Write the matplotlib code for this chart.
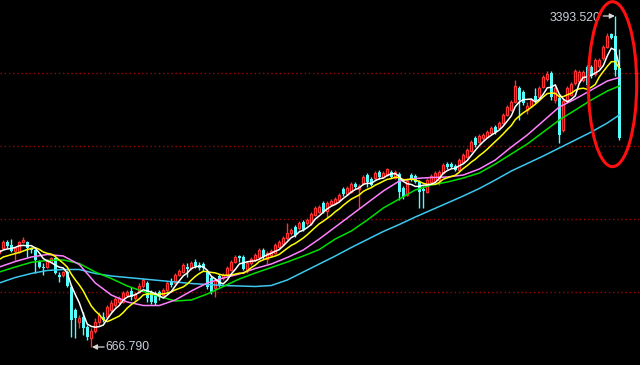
import numpy as np
import pandas as pd
import matplotlib
matplotlib.use("Agg")
import matplotlib.pyplot as plt
from matplotlib.patches import Ellipse

# ---------------- data ----------------
# bar index; -1 is the partly hidden first bar at the left edge
idx = np.arange(-1, 155)

opens = [1441,
    1482, 1532, 1507, 1458, 1450, 1532, 1532, 1482, 1466, 1367,
    1326, 1326, 1367, 1400, 1260, 1260, 1285, 1161, 972, 873,
    914, 832, 741, 799, 873, 914, 914, 972, 1013, 1038,
    1038, 1095, 1128, 1071, 1120, 1169, 1194, 1120, 1112, 1120,
    1095, 1136, 1202, 1194, 1260, 1285, 1326, 1318, 1367, 1342,
    1351, 1285, 1235, 1153, 1252, 1235, 1260, 1301, 1367, 1417,
    1408, 1301, 1359, 1384, 1408, 1466, 1392, 1425, 1441, 1491,
    1515, 1565, 1606, 1655, 1647, 1697, 1688, 1688, 1754, 1779,
    1853, 1787, 1845, 1853, 1878, 1968, 1927, 1944, 2010, 1968,
    2018, 2084, 2051, 2059, 2108, 2067, 2084, 2108, 2059, 2092,
    1977, 1919, 2084, 2075, 2026, 1968, 1944, 2026, 2034, 2043,
    2100, 2174, 2174, 2158, 2125, 2191, 2232, 2282, 2389, 2356,
    2389, 2397, 2430, 2479, 2471, 2512, 2578, 2619, 2685, 2800,
    2768, 2619, 2652, 2735, 2726, 2809, 2875, 2924, 2702, 2718,
    2455, 2702, 2743, 2842, 2858, 2866, 2974, 2974, 2916, 2982,
    3048, 3138, 3245, 3229, 2965]

highs = [1474,
    1548, 1548, 1557, 1491, 1540, 1573, 1540, 1491, 1474, 1384,
    1359, 1392, 1408, 1408, 1285, 1293, 1301, 1178, 988, 930,
    955, 848, 823, 906, 955, 955, 1013, 1054, 1079, 1087,
    1128, 1136, 1161, 1120, 1194, 1235, 1211, 1136, 1128, 1136,
    1153, 1211, 1235, 1277, 1309, 1359, 1359, 1375, 1392, 1367,
    1367, 1301, 1252, 1235, 1268, 1277, 1334, 1384, 1425, 1425,
    1425, 1375, 1408, 1441, 1482, 1482, 1458, 1474, 1524, 1548,
    1581, 1688, 1647, 1672, 1705, 1713, 1730, 1779, 1828, 1837,
    1870, 1870, 1886, 1903, 1935, 1985, 1993, 2026, 2026, 2010,
    2084, 2100, 2067, 2117, 2125, 2117, 2141, 2125, 2125, 2108,
    1993, 2059, 2100, 2092, 2043, 1993, 2059, 2092, 2117, 2125,
    2183, 2191, 2191, 2174, 2224, 2265, 2306, 2372, 2405, 2422,
    2430, 2455, 2487, 2496, 2529, 2595, 2660, 2702, 2866, 2817,
    2784, 2685, 2718, 2800, 2817, 2908, 2941, 2941, 2817, 2743,
    2710, 2817, 2850, 2957, 2949, 2949, 2990, 2990, 3048, 3048,
    3155, 3254, 3254, 3393.52, 3122]

lows = [1425,
    1474, 1482, 1450, 1384, 1441, 1524, 1408, 1441, 1277, 1318,
    1260, 1318, 1359, 1268, 1202, 1244, 1161, 749, 741, 823,
    766, 724, 666.79, 782, 848, 873, 906, 955, 996, 1021,
    1029, 1079, 1054, 1054, 1112, 1153, 1038, 1021, 1013, 1054,
    1079, 1120, 1161, 1186, 1252, 1277, 1244, 1301, 1318, 1301,
    1293, 1145, 1104, 1079, 1161, 1219, 1252, 1293, 1359, 1367,
    1301, 1277, 1342, 1375, 1400, 1392, 1351, 1408, 1433, 1482,
    1507, 1548, 1590, 1573, 1631, 1623, 1672, 1672, 1746, 1771,
    1771, 1738, 1828, 1845, 1870, 1911, 1919, 1935, 1968, 1812,
    2001, 1985, 1993, 2043, 2051, 2059, 2075, 2059, 2051, 1878,
    1886, 1911, 2034, 2018, 1812, 1812, 1935, 2018, 2026, 2001,
    2092, 2133, 2141, 2117, 2117, 2183, 2224, 2273, 2314, 2347,
    2372, 2389, 2422, 2422, 2463, 2504, 2570, 2611, 2677, 2537,
    2660, 2587, 2644, 2677, 2718, 2800, 2858, 2702, 2677, 2347,
    2438, 2693, 2735, 2825, 2842, 2850, 2809, 2883, 2899, 2965,
    3031, 3130, 3204, 2899, 2372]

closes = [1466,
    1532, 1499, 1458, 1482, 1532, 1548, 1482, 1466, 1384, 1326,
    1318, 1384, 1400, 1277, 1244, 1285, 1169, 889, 906, 906,
    823, 749, 799, 873, 930, 889, 996, 1029, 1062, 1071,
    1112, 1120, 1079, 1104, 1169, 1219, 1071, 1038, 1029, 1079,
    1136, 1194, 1178, 1260, 1293, 1342, 1309, 1359, 1334, 1318,
    1318, 1161, 1120, 1219, 1178, 1260, 1318, 1367, 1408, 1400,
    1309, 1359, 1392, 1425, 1466, 1408, 1441, 1458, 1507, 1532,
    1565, 1606, 1631, 1590, 1688, 1631, 1713, 1762, 1812, 1820,
    1779, 1853, 1870, 1886, 1919, 1927, 1977, 2010, 1985, 1993,
    2067, 2026, 2001, 2100, 2067, 2100, 2133, 2067, 2108, 1944,
    1902, 2034, 2043, 2026, 1944, 1952, 2043, 2075, 2100, 2108,
    2166, 2150, 2150, 2125, 2207, 2249, 2290, 2356, 2331, 2405,
    2413, 2438, 2471, 2438, 2512, 2578, 2644, 2685, 2817, 2702,
    2677, 2652, 2702, 2702, 2800, 2891, 2916, 2726, 2800, 2413,
    2693, 2800, 2833, 2941, 2932, 2932, 2825, 2899, 3031, 3031,
    3138, 3229, 3212, 2949, 2389]

# leading values of the short averages where the window runs off the picture
ma5_head = [1449.5, 1465.9, 1474.2, 1478.3]
ma10_head = [1387.7, 1408.3, 1418.2, 1428.9, 1437.1, 1445.3, 1457.7, 1470.0, 1478.3]

# longer averages, read at sample bars
ma_k = [-1, 3, 7, 11, 15, 19, 23, 27, 31, 35, 39, 43, 47, 51, 55, 59, 63, 67, 71,
        75, 79, 83, 87, 91, 95, 99, 103, 107, 111, 115, 119, 123, 127, 131, 135,
        139, 143, 147, 151, 154]
ma20 = [1325.9, 1371.2, 1408.3, 1428.9, 1416.5, 1346.5, 1194.1, 1095.2, 1037.5,
        1008.7, 1008.7, 1054.0, 1128.2, 1194.1, 1235.3, 1268.2, 1313.5, 1350.6,
        1404.2, 1465.9, 1556.6, 1655.3, 1754.2, 1853.1, 1951.9, 2034.3, 2055.0,
        2063.1, 2067.3, 2083.7, 2133.2, 2207.3, 2314.4, 2413.3, 2528.6, 2644.0,
        2709.8, 2784.0, 2858.1, 2887.0]
ma30 = [1284.7, 1325.9, 1364.6, 1379.5, 1383.6, 1354.7, 1284.7, 1231.1, 1169.4,
        1124.1, 1082.9, 1045.8, 1054.0, 1103.5, 1165.2, 1227.0, 1276.5, 1321.8,
        1367.1, 1416.5, 1470.0, 1556.6, 1622.5, 1713.0, 1811.9, 1886.0, 1960.2,
        2001.4, 2026.1, 2059.0, 2100.2, 2174.4, 2256.8, 2339.2, 2438.0, 2536.8,
        2619.2, 2701.6, 2775.7, 2816.9]
ma60 = [1194.1, 1239.4, 1272.4, 1297.1, 1305.3, 1305.3, 1272.4, 1251.8, 1239.4,
        1227.0, 1214.7, 1202.3, 1189.9, 1181.7, 1173.5, 1169.4, 1165.2, 1173.5,
        1218.8, 1284.7, 1350.6, 1416.5, 1486.5, 1552.5, 1618.4, 1676.0, 1737.7,
        1795.4, 1853.1, 1911.0, 1972.5, 2042.6, 2116.7, 2178.5, 2240.3, 2306.2,
        2372.1, 2438.0, 2512.1, 2578.0]

grid_levels = [2924.0, 2322.7, 1721.2, 1119.9]

# ---------------- figure ----------------
fig = plt.figure(figsize=(6.4, 3.65), dpi=100, facecolor="black")
ax = fig.add_axes([0, 0, 1, 1])
ax.set_facecolor("black")
ax.set_xlim(-0.825, 159.175)
ax.set_ylim(518.5, 3525.4)
ax.axis("off")

RED = "#ff3232"
CYAN = "#54fcfc"

o = np.array(opens, float)
h = np.array(highs, float)
l = np.array(lows, float)
c = np.array(closes, float)
up = c >= o

for lv in grid_levels:
    ax.axhline(lv, color="#a00000", lw=1.0, linestyle=(0, (1, 2)), zorder=1)

wick_cols = np.where(up, RED, CYAN)
ax.vlines(idx, l, h, colors=wick_cols, lw=1.0, zorder=2)

bot = np.minimum(o, c)
hgt = np.maximum(np.abs(c - o), 6.0)
ax.bar(idx[up], hgt[up], bottom=bot[up], width=0.55, facecolor="black",
       edgecolor=RED, linewidth=0.95, zorder=3)
ax.bar(idx[~up], hgt[~up], bottom=bot[~up], width=0.8, color=CYAN,
       linewidth=0, zorder=3)

cs = pd.Series(c)
ma5 = cs.rolling(5).mean().to_numpy()
ma5[:len(ma5_head)] = ma5_head
ma10 = cs.rolling(10).mean().to_numpy()
ma10[:len(ma10_head)] = ma10_head

ax.plot(ma_k, ma60, color="#3cc8f0", lw=1.1, zorder=4)
ax.plot(ma_k, ma30, color="#00e000", lw=1.1, zorder=4)
ax.plot(ma_k, ma20, color="#ff80ff", lw=1.1, zorder=4)
ax.plot(idx, ma10, color="#ffff00", lw=1.1, zorder=4)
ax.plot(idx, ma5, color="#ffffff", lw=1.1, zorder=4)

# extreme labels
hi_i = int(np.argmax(h)); hi_k = idx[hi_i]; hi_v = h[hi_i]
lo_i = int(np.argmin(l)); lo_k = idx[lo_i]; lo_v = l[lo_i]
TXT = "#c8d0dc"
ARW = dict(arrowstyle="-|>,head_length=0.5,head_width=0.25", color="#d8d8d8",
           lw=0.9, mutation_scale=6, shrinkA=0, shrinkB=0)
ax.annotate("", xy=(hi_k - 0.1, hi_v), xytext=(hi_k - 3.0, hi_v),
            arrowprops=ARW, zorder=6)
ax.text(hi_k - 3.6, hi_v - 16, f"{hi_v:.3f}", color=TXT, fontsize=8.8,
        family="Liberation Sans", ha="right", va="center", zorder=6)
ax.annotate("", xy=(lo_k + 0.15, lo_v), xytext=(lo_k + 3.2, lo_v),
            arrowprops=ARW, zorder=6)
ax.text(lo_k + 3.4, lo_v, f"{lo_v:.3f}", color=TXT, fontsize=8.8,
        family="Liberation Sans", ha="left", va="center", zorder=6)

ax.add_patch(Ellipse((152.3, 2832), width=12.1, height=1359, fill=False,
                     edgecolor="#ff1010", lw=2.2, zorder=7))

fig.savefig("out.png", dpi=100, facecolor="black")
